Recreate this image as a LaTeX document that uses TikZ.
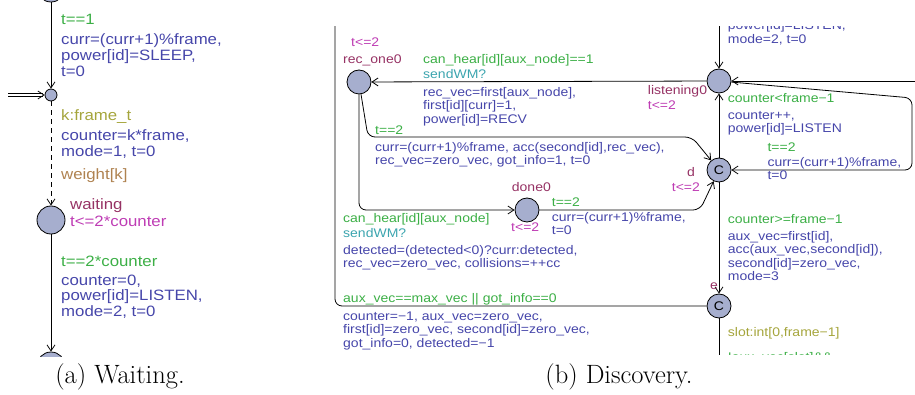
\documentclass[tikz,border=0pt]{standalone}
\usepackage{fontspec}
\usepackage{tikz}
\usetikzlibrary{arrows.meta,positioning,calc}
\newfontfamily\uppaalfont[FakeStretch=1.12]{Liberation Sans}
\definecolor{locfill}{RGB}{166,174,206}
\definecolor{namecol}{RGB}{150,50,100}
\definecolor{invcol}{RGB}{190,60,180}
\definecolor{guardcol}{RGB}{60,175,70}
\definecolor{synccol}{RGB}{60,165,175}
\definecolor{updcol}{RGB}{70,70,170}
\definecolor{selcol}{RGB}{165,165,60}
\definecolor{wgtcol}{RGB}{175,130,80}

\begin{document}
\begin{tikzpicture}[x=1pt, y=-1pt,
  afont/.style={font=\uppaalfont\fontsize{15}{15.7}\selectfont},
  bfont/.style={font=\uppaalfont\fontsize{12.5}{13.4}\selectfont},
  loc/.style={circle, draw, fill=locfill, inner sep=0pt, minimum size=24pt,
              line width=0.8pt},
  lab/.style={anchor=base west, inner sep=0pt, align=left},
  locname/.style={lab, text=namecol},
  inv/.style={lab, text=invcol},
  guard/.style={lab, text=guardcol},
  sync/.style={lab, text=synccol},
  upd/.style={lab, text=updcol},
  sel/.style={lab, text=selcol},
  wgt/.style={lab, text=wgtcol},
  plain/.style={line width=0.8pt, rounded corners=7pt},
  trans/.style={plain, -{Straight Barb[length=6pt, width=8pt]}},
  subcap/.style={anchor=base, inner sep=0pt, font=\fontsize{26.5}{30}\selectfont}]
\useasboundingbox (0,0) rectangle (915,395);

% (a) waiting
\begin{scope}[afont]
\clip (0,0) rectangle (300,356);
\node[loc, minimum size=28pt] (sleep) at (51,-12) {};
\node[loc, minimum size=12pt] (branch) at (51,95) {};
\node[loc, minimum size=28pt] (waiting) at (51,220) {};
\node[loc, minimum size=28pt] (listen) at (51,366) {};
\coordinate (init) at (8,95);
\draw[trans] (sleep) -- (branch);
\draw[trans, double, double distance=2.5pt] (init) -- (branch);
\draw[trans, dash pattern=on 5pt off 4pt] (branch) -- (waiting);
\draw[trans] (waiting) -- (listen);
% multi-line labels sit on their last baseline
\node[guard] (g1) at (61,25) {t==1};
\node[upd] (u1) at (61,76.4) {curr=(curr+1)\%frame,\\power[id]=SLEEP,\\t=0};
\node[sel] (s1) at (61,120.7) {k:frame\_t};
\node[upd] (u2) at (61,156.4) {counter=k*frame,\\mode=1, t=0};
\node[wgt] (w1) at (61,180) {weight[k]};
\node[locname] (n1) at (70,209.3) {waiting};
\node[inv] (i1) at (70,226.7) {t<=2*counter};
\node[guard] (g2) at (61,266) {t==2*counter};
\node[upd] (u3) at (61,316.6) {counter=0,\\power[id]=LISTEN,\\mode=2, t=0};
\end{scope}

% (b) discovery
\begin{scope}[bfont]
\clip (325,27) rectangle (915,354);
\node[loc] (recone) at (359,82) {};
\node[loc] (listening) at (719,81) {};
\node[loc] (dloc) at (719,170) {C};
\node[loc] (done) at (527,210) {};
\node[loc] (eloc) at (719,306) {C};
\coordinate (topin) at (719,15);
\coordinate (rightin) at (925,81);
\coordinate (botout) at (719,365);
\coordinate (leftup) at (335,15);
\draw[trans] (topin) -- (listening);
\draw[trans] (rightin) -- (listening);
\draw[trans] (listening) -- (recone);
\draw[trans] (recone) -- (368,137) -- (692,137) -- (dloc);
\draw[trans] (recone) -- (359,210) -- (done);
\draw[trans] (done) -- (700,210) -- (dloc);
\draw[trans] (listening) -- (912,98) -- (912,170) -- (dloc);
\draw[trans] (dloc) -- (listening);
\draw[trans] (dloc) -- (eloc);
\draw[plain] (eloc) -- (botout);
\draw[plain] (eloc) -- (335,306) -- (leftup);
\node[inv] (i2) at (351,46.7) {t<=2};
\node[locname] (n2) at (343,63.3) {rec\_one0};
\node[guard] (g3) at (423,63.3) {can\_hear[id][aux\_node]==1};
\node[sync] (y1) at (423,79) {sendWM?};
\node[upd] (u4) at (423,123.4) {rec\_vec=first[aux\_node],\\first[id][curr]=1,\\power[id]=RECV};
\node[guard] (g4) at (375,135) {t==2};
\node[upd] (u5) at (375,164.5) {curr=(curr+1)\%frame, acc(second[id],rec\_vec),\\rec\_vec=zero\_vec, got\_info=1, t=0};
\node[guard] (g5) at (343,223) {can\_hear[id][aux\_node]};
\node[sync] (y2) at (343,237.7) {sendWM?};
\node[upd] (u6) at (343,267.5) {detected=(detected<0)?curr:detected,\\rec\_vec=zero\_vec, collisions=++cc};
\node[locname] (n3) at (511.7,191.7) {done0};
\node[inv] (i3) at (511,231.7) {t<=2};
\node[guard] (g6) at (551.7,206.7) {t==2};
\node[upd] (u7) at (551.7,235) {curr=(curr+1)\%frame,\\t=0};
\node[locname] (n4) at (687,176.7) {d};
\node[inv] (i4) at (671.7,191.7) {t<=2};
\node[locname] (n5) at (647.7,95) {listening0};
\node[inv] (i5) at (647.7,110) {t<=2};
\node[guard] (g7) at (767.3,151.7) {t==2};
\node[upd] (u8) at (767.3,180) {curr=(curr+1)\%frame,\\t=0};
\node[guard] (g8) at (727.7,102.7) {counter<frame−1};
\node[upd] (u9) at (727.7,133) {counter++,\\power[id]=LISTEN};
\node[upd] (u10) at (727.7,43.3) {power[id]=LISTEN,\\mode=2, t=0};
\node[guard] (g9) at (727.7,223.3) {counter>=frame−1};
\node[upd] (u11) at (727.7,280.5) {aux\_vec=first[id],\\acc(aux\_vec,second[id]),\\second[id]=zero\_vec,\\mode=3};
\node[locname] (n6) at (710,290) {e};
\node[sel] (s2) at (727.7,336.7) {slot:int[0,frame−1]};
\node[guard] (g10) at (727.7,361) {!aux\_vec[slot]\&\&};
\node[guard] (g11) at (343,302.3) {aux\_vec==max\_vec || got\_info==0};
\node[upd] (u12) at (343,347) {counter=−1, aux\_vec=zero\_vec,\\first[id]=zero\_vec, second[id]=zero\_vec,\\got\_info=0, detected=−1};
\end{scope}

\node[subcap] (capa) at (120,383) {(a) Waiting.};
\node[subcap] (capb) at (619,383) {(b) Discovery.};
\end{tikzpicture}
\end{document}
